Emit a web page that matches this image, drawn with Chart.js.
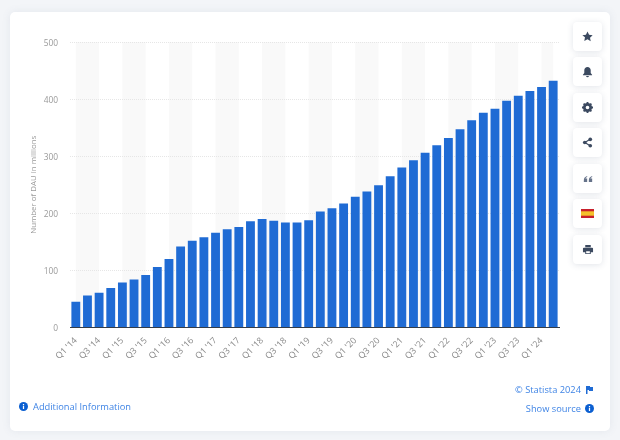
<!DOCTYPE html>
<html><head><meta charset="utf-8">
<script src="https://cdn.jsdelivr.net/npm/chart.js@4"></script>
<style>
html,body{margin:0;padding:0;width:620px;height:440px;overflow:hidden;background:#f3f5f8;font-family:"Open Sans",sans-serif}
#card{position:absolute;left:10px;top:12px;width:600px;height:419px;background:#fff;border-radius:5px;box-shadow:0 0 8px rgba(90,110,140,.10)}
#c{position:absolute;left:0;top:0}
.btn{position:absolute;left:573px;width:29px;height:29px;background:#fff;border-radius:4px;box-shadow:0 1px 6px rgba(70,90,120,.16);display:flex;align-items:center;justify-content:center}
.link{position:absolute;font-size:9.3px;line-height:12px;color:#3f84e5;white-space:nowrap}
.ic{position:absolute}
</style></head><body>
<div id="card"></div>
<canvas id="c" width="620" height="440"></canvas>
<div class="btn" style="top:22px"><svg width="11" height="11" viewBox="0 0 24 24"><path fill="#3c4a60" d="M12 1l3.4 7.3 7.8 1-5.700 5.400 1.500 7.900L12 18l-7 3.600 1.500-7.900L.8 9.300l7.800-1z"/></svg></div>
<div class="btn" style="top:57px"><svg width="11" height="12" viewBox="0 0 24 24"><path fill="#3c4a60" d="M12 1c-4 0-7 3-7 7v6l-3 4v1h20v-1l-3-4V8c0-4-3-7-7-7zM9 20.500a3 3 0 0 0 6 0z"/></svg></div>
<div class="btn" style="top:93px"><svg width="11" height="11" viewBox="0 0 24 24"><circle cx="12" cy="12" r="7" fill="none" stroke="#3c4a60" stroke-width="6"/><path stroke="#3c4a60" stroke-width="4" d="M12 0v5M12 19v5M0 12h5M19 12h5M3.500 3.500l3.500 3.500M17 17l3.500 3.500M3.500 20.500L7 17M17 7l3.500-3.500"/></svg></div>
<div class="btn" style="top:128px"><svg width="11" height="11" viewBox="0 0 24 24"><path stroke="#3c4a60" stroke-width="2.500" d="M18 5L6 12l12 7" fill="none"/><circle cx="18" cy="5" r="4" fill="#3c4a60"/><circle cx="6" cy="12" r="4" fill="#3c4a60"/><circle cx="18" cy="19" r="4" fill="#3c4a60"/></svg></div>
<div class="btn" style="top:164px"><svg width="10" height="10" viewBox="0 0 24 24"><path fill="#66738a" d="M10 5C5 7 2 10 2 15v4h8v-8H6c0-2 2-3 4-4zM22 5c-5 2-8 5-8 10v4h8v-8h-4c0-2 2-3 4-4z"/></svg></div>
<div class="btn" style="top:199px"><svg width="13" height="9" viewBox="0 0 13 9"><rect width="13" height="9" fill="#c8202c"/><rect y="2.300" width="13" height="4.400" fill="#f4c22c"/></svg></div>
<div class="btn" style="top:235px"><svg width="12" height="11" viewBox="0 0 24 24"><path fill="#3c4a60" d="M6 2h12v5H6zM3 8h18a2 2 0 0 1 2 2v8h-5v4H6v-4H1v-8a2 2 0 0 1 2-2zm5 8v4h8v-4z"/></svg></div>
<svg class="ic" style="left:19px;top:402px" width="9" height="9" viewBox="0 0 10 10"><circle cx="5" cy="5" r="5" fill="#0b5fd1"/><rect x="4.300" y="4.200" width="1.400" height="3.600" fill="#fff"/><rect x="4.300" y="2.200" width="1.400" height="1.300" fill="#fff"/></svg>
<div class="link" style="left:33px;top:401px">Additional Information</div>
<div class="link" style="right:39px;top:384px">© Statista 2024</div>
<svg class="ic" style="left:586px;top:386px" width="7" height="8" viewBox="0 0 7 8"><path fill="#1f6bd4" d="M0 0h4v1h3v4H3V4H1.500v4H0z"/></svg>
<div class="link" style="right:39px;top:402.500px">Show source</div>
<svg class="ic" style="left:585px;top:404px" width="9" height="9" viewBox="0 0 10 10"><circle cx="5" cy="5" r="5" fill="#0b5fd1"/><rect x="4.300" y="4.200" width="1.400" height="3.600" fill="#fff"/><rect x="4.300" y="2.200" width="1.400" height="1.300" fill="#fff"/></svg>
<script>
const categories = ["Q1 '14","Q2 '14","Q3 '14","Q4 '14","Q1 '15","Q2 '15","Q3 '15","Q4 '15","Q1 '16","Q2 '16","Q3 '16","Q4 '16","Q1 '17","Q2 '17","Q3 '17","Q4 '17","Q1 '18","Q2 '18","Q3 '18","Q4 '18","Q1 '19","Q2 '19","Q3 '19","Q4 '19","Q1 '20","Q2 '20","Q3 '20","Q4 '20","Q1 '21","Q2 '21","Q3 '21","Q4 '21","Q1 '22","Q2 '22","Q3 '22","Q4 '22","Q1 '23","Q2 '23","Q3 '23","Q4 '23","Q1 '24","Q2 '24"];
const dau = [45,56,61,69,79,84,92,106,120,142,152,158,166,172,176,186,190,187,184,184,188,203,209,217,229,238,249,265,280,293,306,319,332,347,363,376,383,397,406,414,421,432];
const yTicks = [0,100,200,300,400,500];
const stripeStarts = [0,4,8,12,16,20,24,28,32,36,40];
const stripes = {
  id:'stripes',
  beforeDraw(ch){
    const {ctx,scales:{x,y}} = ch;
    ctx.save(); ctx.fillStyle='#f9f9f9';
    stripeStarts.forEach(s=>{
      const a=x.getPixelForValue(s), b=x.getPixelForValue(Math.min(s+2,categories.length-1));
      ctx.fillRect(a,y.getPixelForValue(500),b-a,y.getPixelForValue(0)-y.getPixelForValue(500));
    });
    ctx.restore();
  }
};
Chart.defaults.font.family='"Open Sans",sans-serif';
new Chart(document.getElementById('c'),{
  type:'bar',
  data:{labels:categories,datasets:[{data:dau,backgroundColor:'#1f6bd4',categoryPercentage:1,barPercentage:0.76}]},
  plugins:[stripes],
  options:{
    responsive:false,animation:false,devicePixelRatio:1,
    layout:{padding:{left:29,right:61,top:42,bottom:0}},
    plugins:{legend:{display:false},tooltip:{enabled:false}},
    scales:{
      x:{
        afterFit(s){s.height=112.5},
        grid:{display:false,drawTicks:false},
        border:{display:true,color:'#333c48',width:1},
        ticks:{color:'#8a8a8a',font:{size:8.8},autoSkip:false,maxRotation:45,minRotation:45,padding:8,
          callback(v,i){return i%2===0?categories[i]:''}}
      },
      y:{
        min:0,max:500,
        afterFit(s){s.width=41},
        afterBuildTicks(s){s.ticks=yTicks.map(v=>({value:v}))},
        border:{display:false,dash:[1,1]},
        grid:{color:'#e6e6e6',drawTicks:false,lineWidth:1},
        ticks:{color:'#9a9a9a',font:{size:8.4},padding:12,labelOffset:1.5},
        title:{display:true,text:'Number of DAU in millions',color:'#9a9a9a',font:{size:7.9},padding:{top:0,bottom:4}}
      }
    }
  }
});
</script>
</body></html>
